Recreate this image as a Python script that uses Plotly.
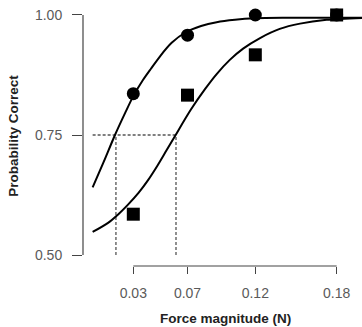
import plotly.graph_objects as go

# ---- data ----
force_ticks = [0.03, 0.07, 0.12, 0.18]
prob_ticks = [0.50, 0.75, 1.00]

circle_force = [0.18, 0.03, 0.07, 0.12]
circle_prob = [1.0, 0.836, 0.958, 1.0]

square_force = [0.03, 0.07, 0.12, 0.18]
square_prob = [0.585, 0.833, 0.917, 1.0]

fit_circle_x = [0.0, 0.008, 0.0165, 0.024, 0.030, 0.037, 0.043, 0.050, 0.0583, 0.0681,
                0.080, 0.0915, 0.105, 0.120, 0.140, 0.170, 0.199]
fit_circle_y = [0.641, 0.693, 0.750, 0.796, 0.831, 0.864, 0.888, 0.915, 0.942, 0.963,
                0.977, 0.985, 0.990, 0.993, 0.994, 0.994, 0.994]

fit_square_x = [0.0, 0.0114, 0.019, 0.0261, 0.034, 0.0409, 0.048, 0.0543, 0.0608, 0.0725,
                0.083, 0.0915, 0.101, 0.111, 0.1235, 0.138, 0.153, 0.1726, 0.199]
fit_square_y = [0.548, 0.567, 0.585, 0.605, 0.630, 0.656, 0.687, 0.717, 0.748, 0.803,
                0.846, 0.877, 0.906, 0.930, 0.952, 0.971, 0.982, 0.990, 0.994]

threshold_level = 0.75
threshold_force = [0.0172, 0.0615]
chance_level = 0.50

fig = go.Figure()

line_col = "#444444"
dash_col = "#555555"

# threshold dashed lines
fig.add_trace(go.Scatter(x=[0.0, max(threshold_force)], y=[threshold_level, threshold_level],
                         mode="lines", line=dict(color=dash_col, width=1.3, dash="3px,2px"),
                         hoverinfo="skip", showlegend=False))
for tf in threshold_force:
    fig.add_trace(go.Scatter(x=[tf, tf], y=[chance_level, threshold_level],
                             mode="lines", line=dict(color=dash_col, width=1.3, dash="3px,2px"),
                             hoverinfo="skip", showlegend=False))

# fitted curves
fig.add_trace(go.Scatter(x=fit_circle_x, y=fit_circle_y, mode="lines", line_shape="spline",
                         line=dict(color="black", width=2, smoothing=0.8), showlegend=False))
fig.add_trace(go.Scatter(x=fit_square_x, y=fit_square_y, mode="lines", line_shape="spline",
                         line=dict(color="black", width=2, smoothing=0.8), showlegend=False))

# data points
fig.add_trace(go.Scatter(x=circle_force, y=circle_prob, mode="markers",
                         marker=dict(symbol="circle", size=13, color="black"),
                         cliponaxis=False, showlegend=False))
fig.add_trace(go.Scatter(x=square_force, y=square_prob, mode="markers",
                         marker=dict(symbol="square", size=13, color="black"),
                         cliponaxis=False, showlegend=False))

# R-style axis lines spanning first to last tick
fig.add_shape(type="line", xref="paper", yref="y", x0=0, x1=0,
              y0=min(prob_ticks), y1=max(prob_ticks), line=dict(color=line_col, width=1.2))
fig.add_shape(type="line", xref="x", yref="paper", x0=min(force_ticks), x1=max(force_ticks),
              y0=0, y1=0, line=dict(color=line_col, width=1.2))

tick_font = dict(family="Liberation Sans, Arial, sans-serif", size=14, color="#5a5a5a")

fig.update_xaxes(range=[-0.0071, 0.1987], tickvals=force_ticks,
                 ticktext=[f"{v:.2f}" for v in force_ticks],
                 showgrid=False, zeroline=False, showline=False,
                 ticks="outside", ticklen=7, tickwidth=1.2, tickcolor=line_col,
                 tickfont=tick_font, ticklabelstandoff=7)
fig.update_yaxes(range=[0.4771, 1.0208], tickvals=prob_ticks,
                 ticktext=[f"{v:.2f}" for v in prob_ticks],
                 showgrid=False, zeroline=False, showline=False,
                 ticks="outside", ticklen=10, tickwidth=1.2, tickcolor=line_col,
                 tickfont=tick_font, ticklabelstandoff=7)

title_font = dict(family="Liberation Sans, Arial, sans-serif", size=13.5, color="#222222")
fig.add_annotation(text="<b>Force magnitude (N)</b>", xref="paper", yref="paper",
                   x=0.51, y=-0.2, xanchor="center", yanchor="middle",
                   showarrow=False, font=title_font)
fig.add_annotation(text="<b>Probability Correct</b>", xref="paper", yref="paper",
                   x=-0.25, y=0.5, xanchor="center", yanchor="middle", textangle=-90,
                   showarrow=False, font=title_font)

fig.update_layout(width=362, height=327, margin=dict(l=83, r=0, t=5, b=61),
                  plot_bgcolor="white", paper_bgcolor="white")

fig.write_html("out.html", config={"displayModeBar": False},
               post_script="document.body.style.margin='0';")
